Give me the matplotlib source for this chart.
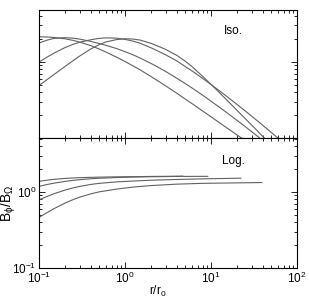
import matplotlib
matplotlib.use("Agg")
import matplotlib.pyplot as plt

plt.rcParams['font.family'] = ['Liberation Sans', 'DejaVu Sans']
plt.rcParams['mathtext.fontset'] = 'custom'
plt.rcParams['mathtext.rm'] = 'Liberation Sans'
plt.rcParams['mathtext.it'] = 'Liberation Sans:italic'
plt.rcParams['mathtext.default'] = 'regular'

# radii used when reading the curves off the picture
r_grid = [0.1, 0.125, 0.15, 0.2, 0.25, 0.3, 0.4, 0.5, 0.6, 0.8, 1, 1.25, 1.5, 2, 2.5,
          3, 4, 5, 6, 8, 10, 12.5, 15, 20, 25, 30, 40, 50, 60, 80]

# top panel (Iso.)
iso_b1 = [2.133, 2.118, 2.088, 2.007, 1.912, 1.811, 1.634, 1.474, 1.346, 1.150, 1.012,
          0.880, 0.785, 0.643, 0.549, 0.480, 0.3875, 0.326, 0.2836, 0.2266, 0.190,
          0.1594, 0.1379, 0.1102, 0.0927]
iso_b2 = [1.762, 1.930, 2.032, 2.076, 2.045, 1.984, 1.855, 1.741, 1.649, 1.492, 1.362,
          1.233, 1.122, 0.956, 0.834, 0.743, 0.610, 0.520, 0.455, 0.365, 0.305, 0.254,
          0.2185, 0.171, 0.1413, 0.1203, 0.093]
iso_b3 = [0.991, 1.157, 1.302, 1.533, 1.699, 1.811, 1.948, 2.032, 2.063, 2.045, 1.971,
          1.866, 1.752, 1.533, 1.362, 1.229, 1.031, 0.870, 0.761, 0.607, 0.504, 0.418,
          0.357, 0.277, 0.227, 0.192, 0.147, 0.119, 0.1, 0.076]
iso_b4 = [0.488, 0.587, 0.683, 0.865, 1.037, 1.199, 1.474, 1.679, 1.822, 1.960, 2.007,
          1.989, 1.930, 1.752, 1.585, 1.447, 1.218, 1.024, 0.870, 0.646, 0.507, 0.396,
          0.322, 0.232, 0.180, 0.1465, 0.105, 0.082]

# bottom panel (Log.)
log_r1 = [0.1, 0.125, 0.15, 0.2, 0.25, 0.3, 0.4, 0.5, 0.8, 1.25, 2, 4, 4.7]
log_b1 = [1.375, 1.425, 1.461, 1.501, 1.524, 1.538, 1.552, 1.561, 1.576, 1.585, 1.595, 1.605, 1.610]
log_r2 = [0.1, 0.125, 0.15, 0.2, 0.25, 0.3, 0.4, 0.5, 0.8, 1.25, 2, 4, 9.2]
log_b2 = [1.181, 1.252, 1.302, 1.371, 1.417, 1.447, 1.487, 1.510, 1.542, 1.566, 1.580, 1.595, 1.600]
log_r3 = [0.1, 0.125, 0.15, 0.2, 0.25, 0.3, 0.4, 0.5, 0.8, 1.25, 2, 4, 8, 20, 22.3]
log_b3 = [0.785, 0.873, 0.947, 1.053, 1.129, 1.181, 1.252, 1.294, 1.354, 1.388, 1.422,
          1.456, 1.483, 1.510, 1.514]
log_r4 = [0.1, 0.125, 0.15, 0.2, 0.25, 0.3, 0.4, 0.5, 0.8, 1.25, 2, 4, 8, 20, 39]
log_b4 = [0.462, 0.536, 0.603, 0.710, 0.792, 0.854, 0.941, 1.0, 1.088, 1.157, 1.210,
          1.263, 1.294, 1.313, 1.326]

iso_curves = [iso_b1, iso_b2, iso_b3, iso_b4]
log_curves = [(log_r1, log_b1), (log_r2, log_b2), (log_r3, log_b3), (log_r4, log_b4)]

fig = plt.figure(figsize=(3.09, 3.01), dpi=100)
ax_top = fig.add_axes([0.126, 0.5415, 0.835, 0.4255])
ax_bot = fig.add_axes([0.126, 0.1096, 0.835, 0.4319])

line_color = '0.38'
for b in iso_curves:
    ax_top.plot(r_grid[:len(b)], b, color=line_color, lw=0.8)
for r, b in log_curves:
    ax_bot.plot(r, b, color=line_color, lw=0.8)

for ax in (ax_top, ax_bot):
    ax.set_xscale('log')
    ax.set_yscale('log')
    ax.set_xlim(0.1, 100)
    ax.tick_params(which='both', direction='in', top=True, right=True,
                   labelsize=8.5, width=0.6, pad=2)
    ax.tick_params(which='major', length=4)
    ax.tick_params(which='minor', length=2)
    for s in ax.spines.values():
        s.set_linewidth(0.8)

ax_top.set_ylim(0.1, 4.8)
ax_bot.set_ylim(0.1, 5.1)
ax_top.tick_params(which='both', labelbottom=False, labelleft=False)

ax_top.text(0.752, 0.836, 'Iso.', transform=ax_top.transAxes,
            ha='center', va='center', fontsize=8.5)
ax_bot.text(0.752, 0.825, 'Log.', transform=ax_bot.transAxes,
            ha='center', va='center', fontsize=8.5)

ax_bot.set_xlabel(r'$r/r_0$', fontsize=8.5)
ax_bot.xaxis.set_label_coords(0.46, -0.12)
ax_bot.set_ylabel(r'$B_\phi/B_\Omega$', fontsize=10)
ax_bot.yaxis.set_label_coords(-0.08, 0.5)

fig.savefig('out.png', dpi=100)
